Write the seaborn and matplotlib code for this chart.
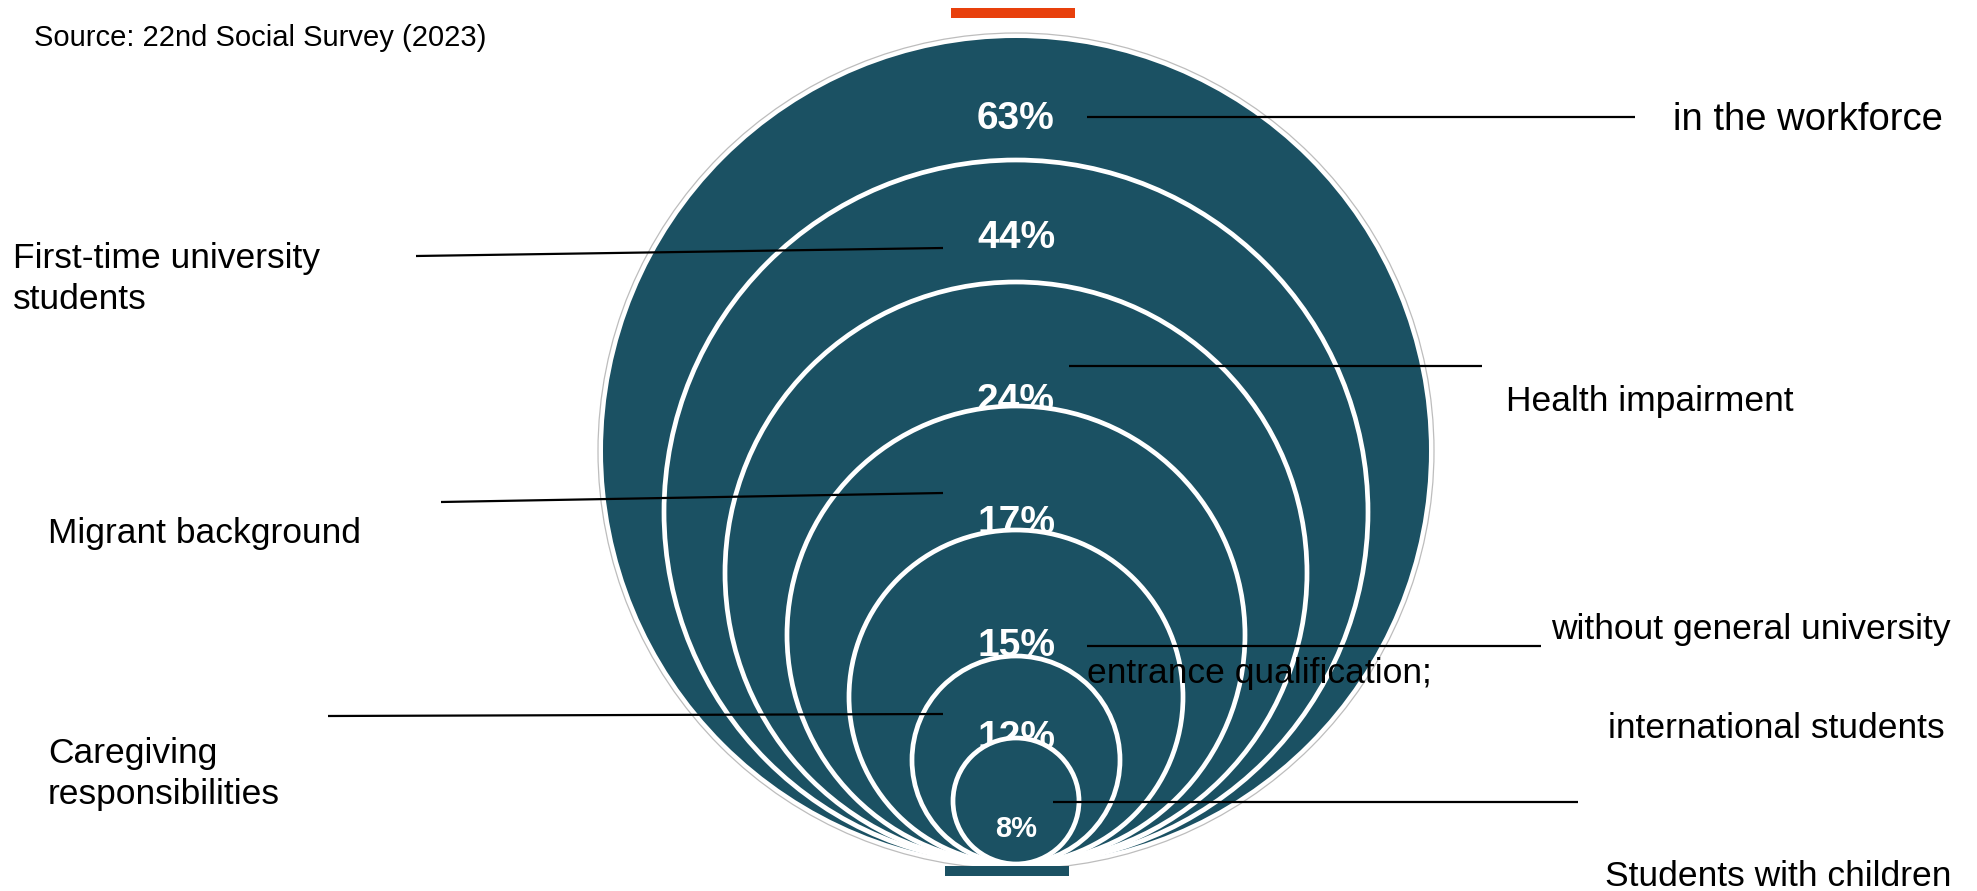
import matplotlib
matplotlib.use("Agg")
import matplotlib.pyplot as plt
from matplotlib.patches import Circle, Rectangle
import seaborn as sns

# --- data -------------------------------------------------------------
values = [63, 44, 24, 17, 15, 12, 8]
value_labels = [f"{v}%" for v in values]
groups = [
    "in the workforce",
    "First-time university\nstudents",
    "Health impairment",
    "Migrant background",
    "without general university",
    "Caregiving\nresponsibilities",
    "Students with children",
]
extra_texts = ["entrance qualification;", "international students"]
source_note = "Source: 22nd Social Survey (2023)"

# --- style ------------------------------------------------------------
sns.set_theme(style="white")
plt.rcParams["font.family"] = ["Liberation Sans", "DejaVu Sans"]

TEAL = "#1b5163"
ORANGE = "#e8400c"
W, H = 1977, 891

fig = plt.figure(figsize=(W / 100, H / 100), dpi=100)
ax = fig.add_axes([0, 0, 1, 1])
ax.set_xlim(0, W)
ax.set_ylim(H, 0)
ax.axis("off")

# nested circles, all touching at the bottom point
cx, bottom = 1016, 864
radii = [413, 352, 291, 229, 167, 104, 63]
label_y = [119, 238, 401, 523, 646, 738, 829]
label_size = [28, 28, 28, 28, 28, 28, 21]

# thin grey outline around the largest circle
ax.add_patch(Circle((cx, bottom - radii[0]), radii[0] + 5, facecolor="none",
                    edgecolor="#bdbdbd", lw=0.9, zorder=1))

for i, (val, r) in enumerate(zip(value_labels, radii)):
    z = 2 + 2 * i
    ax.add_patch(Circle((cx, bottom - r), r, facecolor=TEAL,
                        edgecolor="white" if i else "none",
                        lw=3.4, zorder=z))
    ax.text(cx, label_y[i], val, color="white", fontsize=label_size[i],
            fontweight="bold", ha="center", va="center", zorder=z + 1)

# small bars above and below the circles
ax.add_patch(Rectangle((951, 8), 124, 10, color=ORANGE, lw=0, zorder=30))
ax.add_patch(Rectangle((945, 866), 124, 10, color=TEAL, lw=0, zorder=30))

# leader lines
leaders = [
    ((1087, 1635), (117, 117)),
    ((416, 943), (256, 248)),
    ((1069, 1482), (366, 366)),
    ((441, 943), (502, 493)),
    ((1087, 1541), (646, 646)),
    ((328, 943), (716, 714)),
    ((1053, 1578), (802, 802)),
]
for xs, ys in leaders:
    ax.plot(xs, ys, color="black", lw=1.6, solid_capstyle="butt", zorder=40)

# group labels
fs = 25.5
text_pos = [
    (1673, 120, 27.5),
    (13, 279, fs),
    (1506, 401, fs),
    (48, 533, fs),
    (1551, 630, fs),
    (48, 774, fs),
    (1605, 876, fs),
]
for g, (x, y, s) in zip(groups, text_pos):
    ax.text(x, y, g, fontsize=s, color="black", ha="left", va="center",
            linespacing=1.31, zorder=41)

ax.text(1087, 674, extra_texts[0], fontsize=fs, color="black",
        ha="left", va="center", zorder=41)
ax.text(1608, 728, extra_texts[1], fontsize=fs, color="black",
        ha="left", va="center", zorder=41)

ax.text(34, 38, source_note, fontsize=21, color="black",
        ha="left", va="center", zorder=41)

fig.savefig("out.png", dpi=100)
